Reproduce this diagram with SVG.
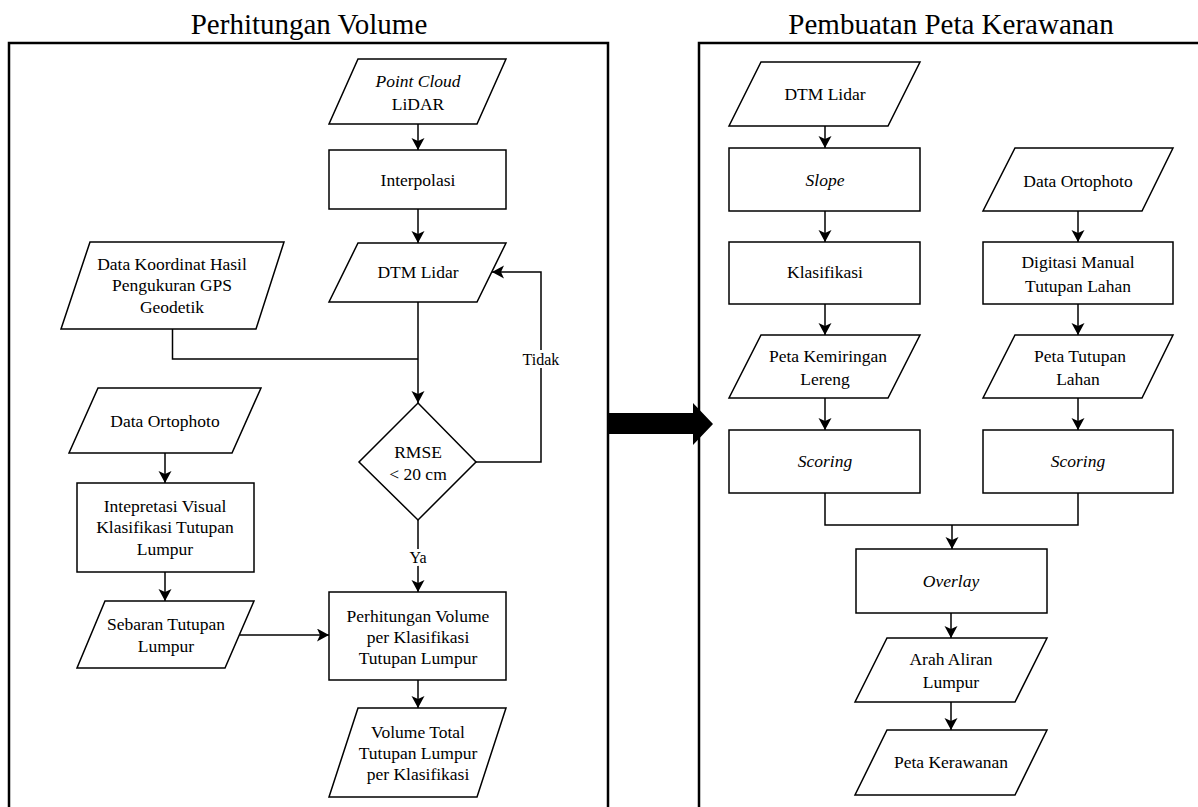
<svg xmlns="http://www.w3.org/2000/svg" width="1198" height="807" viewBox="0 0 1198 807">
<style>
.panel{fill:none;stroke:#000;stroke-width:2.5}
.shape{fill:#fff;stroke:#000;stroke-width:1.5}
.conn{fill:none;stroke:#000;stroke-width:1.5}
.t{font-family:"Liberation Serif","Times New Roman",serif;font-size:17.5px;fill:#000;text-anchor:middle}
.i{font-style:italic}
.title{font-size:29px}
.lbl{font-size:16px;stroke:#fff;stroke-width:6px;paint-order:stroke;stroke-linejoin:round}
</style>
<defs>
<marker id="ah" markerWidth="14" markerHeight="14" refX="12" refY="6.5" orient="auto" markerUnits="userSpaceOnUse">
<path d="M0,0 L12,6.5 L0,13 L3,6.5 Z" fill="#000"/>
</marker>
</defs>
<rect width="1198" height="807" fill="#fff"/>

<g id="panel-left">
<path class="panel" d="M9,807 V43 H608 V807"/>
<text class="t title" x="309" y="34">Perhitungan Volume</text>
</g>
<g id="panel-right">
<path class="panel" d="M699,807 V43 H1198"/>
<text class="t title" x="951" y="34">Pembuatan Peta Kerawanan</text>
</g>

<g id="connectors">
<path class="conn" d="M418,124 V150" marker-end="url(#ah)"/>
<path class="conn" d="M418,209 V243" marker-end="url(#ah)"/>
<path class="conn" d="M172.5,329 V359 H418"/>
<path class="conn" d="M418,302 V403" marker-end="url(#ah)"/>
<path class="conn" d="M476,462 H541 V272 H492" marker-end="url(#ah)"/>
<path class="conn" d="M418,520 V592" marker-end="url(#ah)"/>
<path class="conn" d="M165,453 V483" marker-end="url(#ah)"/>
<path class="conn" d="M165,572 V601" marker-end="url(#ah)"/>
<path class="conn" d="M239.5,635 H329" marker-end="url(#ah)"/>
<path class="conn" d="M418,680 V708" marker-end="url(#ah)"/>
<path class="conn" d="M825,126 V148" marker-end="url(#ah)"/>
<path class="conn" d="M825,211 V242" marker-end="url(#ah)"/>
<path class="conn" d="M825,304 V335" marker-end="url(#ah)"/>
<path class="conn" d="M825,398 V430" marker-end="url(#ah)"/>
<path class="conn" d="M1078,211 V242" marker-end="url(#ah)"/>
<path class="conn" d="M1078,304 V335" marker-end="url(#ah)"/>
<path class="conn" d="M1078,398 V430" marker-end="url(#ah)"/>
<path class="conn" d="M825,493 V525 H1078 V493"/>
<path class="conn" d="M952,525 V549" marker-end="url(#ah)"/>
<path class="conn" d="M951,613 V638" marker-end="url(#ah)"/>
<path class="conn" d="M951,702 V730" marker-end="url(#ah)"/>
<text class="t lbl" x="541" y="365">Tidak</text>
<text class="t lbl" x="418" y="563">Ya</text>
<polygon points="607,413 693,413 693,403 713,424 693,445 693,434 607,434" fill="#000"/>
</g>

<g id="point-cloud">
<polygon class="shape" points="358,59 506,59 477,124 329,124"/>
<text class="t i" x="418" y="87">Point Cloud</text>
<text class="t" x="418" y="110">LiDAR</text>
</g>
<g id="interpolasi">
<rect class="shape" x="329" y="150" width="177" height="59"/>
<text class="t" x="418" y="186">Interpolasi</text>
</g>
<g id="dtm-lidar-1">
<polygon class="shape" points="358,243 506,243 477,302 329,302"/>
<text class="t" x="418" y="278">DTM Lidar</text>
</g>
<g id="data-koordinat">
<polygon class="shape" points="90,242 284,242 256,329 61,329"/>
<text class="t" x="172" y="270">Data Koordinat Hasil</text>
<text class="t" x="172" y="291">Pengukuran GPS</text>
<text class="t" x="172" y="313">Geodetik</text>
</g>
<g id="rmse">
<polygon class="shape" points="418,403 476,462 418,520 359,462"/>
<text class="t" x="418" y="458">RMSE</text>
<text class="t" x="418" y="480">&lt; 20 cm</text>
</g>
<g id="data-ortophoto-1">
<polygon class="shape" points="98,388 261,388 232,453 69,453"/>
<text class="t" x="165" y="427">Data Ortophoto</text>
</g>
<g id="intepretasi">
<rect class="shape" x="77" y="483" width="177" height="89"/>
<text class="t" x="165" y="512">Intepretasi Visual</text>
<text class="t" x="165" y="533">Klasifikasi Tutupan</text>
<text class="t" x="165" y="555">Lumpur</text>
</g>
<g id="sebaran">
<polygon class="shape" points="105,601 254,601 225,668 77,668"/>
<text class="t" x="166" y="630">Sebaran Tutupan</text>
<text class="t" x="166" y="652">Lumpur</text>
</g>
<g id="perhitungan">
<rect class="shape" x="329" y="592" width="177" height="88"/>
<text class="t" x="418" y="622">Perhitungan Volume</text>
<text class="t" x="418" y="643">per Klasifikasi</text>
<text class="t" x="418" y="664">Tutupan Lumpur</text>
</g>
<g id="volume-total">
<polygon class="shape" points="358,708 506,708 477,797 329,797"/>
<text class="t" x="418" y="738">Volume Total</text>
<text class="t" x="418" y="759">Tutupan Lumpur</text>
<text class="t" x="418" y="780">per Klasifikasi</text>
</g>

<g id="dtm-lidar-2">
<polygon class="shape" points="761,62 920,62 888,126 729,126"/>
<text class="t" x="825" y="100">DTM Lidar</text>
</g>
<g id="slope">
<rect class="shape" x="729" y="148" width="191" height="63"/>
<text class="t i" x="825" y="186">Slope</text>
</g>
<g id="klasifikasi">
<rect class="shape" x="729" y="242" width="191" height="62"/>
<text class="t" x="825" y="278">Klasifikasi</text>
</g>
<g id="peta-kemiringan">
<polygon class="shape" points="761,335 920,335 888,398 729,398"/>
<text class="t" x="828" y="362">Peta Kemiringan</text>
<text class="t" x="825" y="385">Lereng</text>
</g>
<g id="scoring-1">
<rect class="shape" x="729" y="430" width="191" height="63"/>
<text class="t i" x="825" y="467">Scoring</text>
</g>
<g id="data-ortophoto-2">
<polygon class="shape" points="1015,148 1173,148 1142,211 983,211"/>
<text class="t" x="1078" y="187">Data Ortophoto</text>
</g>
<g id="digitasi">
<rect class="shape" x="983" y="242" width="190" height="62"/>
<text class="t" x="1078" y="268">Digitasi Manual</text>
<text class="t" x="1078" y="292">Tutupan Lahan</text>
</g>
<g id="peta-tutupan">
<polygon class="shape" points="1015,335 1173,335 1142,398 983,398"/>
<text class="t" x="1080" y="362">Peta Tutupan</text>
<text class="t" x="1078" y="385">Lahan</text>
</g>
<g id="scoring-2">
<rect class="shape" x="983" y="430" width="190" height="63"/>
<text class="t i" x="1078" y="467">Scoring</text>
</g>
<g id="overlay">
<rect class="shape" x="856" y="549" width="191" height="64"/>
<text class="t i" x="951" y="587">Overlay</text>
</g>
<g id="arah-aliran">
<polygon class="shape" points="887,638 1047,638 1015,702 855,702"/>
<text class="t" x="951" y="665">Arah Aliran</text>
<text class="t" x="951" y="688">Lumpur</text>
</g>
<g id="peta-kerawanan">
<polygon class="shape" points="887,730 1047,730 1015,795 855,795"/>
<text class="t" x="951" y="768">Peta Kerawanan</text>
</g>
</svg>
